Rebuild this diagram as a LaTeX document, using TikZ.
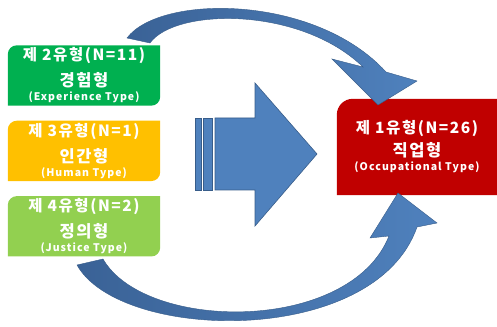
\documentclass[tikz,border=0pt]{standalone}
\usepackage{fontspec}
\newfontfamily\kr{Noto Sans CJK KR}[LetterSpace=10]
\usetikzlibrary{positioning}
\usetikzlibrary{backgrounds}
\definecolor{typered}{HTML}{C00000}
\definecolor{typegreen}{HTML}{00B050}
\definecolor{typeyellow}{HTML}{FFC000}
\definecolor{typelime}{HTML}{92D050}
\definecolor{arrowblue}{HTML}{4F81BD}
\definecolor{arrowdark}{HTML}{3A6296}
\definecolor{arrowedge}{HTML}{385D8A}
\tikzset{
  typebox/.style={
    text=white, align=center, inner sep=0pt,
    minimum width=152pt, minimum height=60pt,
    font=\kr\bfseries\fontsize{15.5}{18}\selectfont,
  },
  block arrow/.style={fill=arrowblue, draw=arrowedge, line width=0.6pt},
  curved arrow/.style={left color=arrowdark, right color=arrowblue, draw=arrowedge, line width=0.4pt},
}
\newcommand{\eng}{\fontsize{10.5}{12}\selectfont}
\newcommand{\kname}{\fontsize{16.5}{18}\selectfont}
\newcommand{\typefill}[3][9pt]{%
  \fill[#3] (#2.south west) -- ([yshift=-#1]#2.north west)
    arc[start angle=180, end angle=90, radius=#1]
    -- (#2.north east) -- ([yshift=#1]#2.south east)
    arc[start angle=0, end angle=-90, radius=#1] -- cycle;}
\begin{document}
\begin{tikzpicture}[x=1pt, y=1pt]
  \useasboundingbox (0,0) rectangle (497,326);

  % Define nodes
  \node[typebox] (type_2) at (84,250.5) {제 2유형(N=11)\\[8pt] {\kname 경험형}\\[-4pt] {\eng(Experience Type)}};
  \node[typebox, below=15pt of type_2] (type_3) {제 3유형(N=1)\\[8pt] {\kname 인간형}\\[-4pt] {\eng(Human Type)}};
  \node[typebox, below=15pt of type_3] (type_4) {제 4유형(N=2)\\[8pt] {\kname 정의형}\\[-4pt] {\eng(Justice Type)}};

  \node[typebox, minimum width=160pt, minimum height=96pt] (type_1) at (417,179) {제 1유형(N=26)\\[5pt] {\kname 직업형}\\[-4pt] {\eng(Occupational Type)}};

  \begin{pgfonlayer}{background}
    \typefill{type_2}{typegreen}
    \typefill{type_3}{typeyellow}
    \typefill{type_4}{typelime}
    % red box runs past the right edge
    \fill[typered] (type_1.south west) -- ([yshift=-16pt]type_1.north west)
      arc[start angle=180, end angle=90, radius=16pt]
      -- ([xshift=20pt]type_1.north east) -- ([xshift=20pt]type_1.south east) -- cycle;
  \end{pgfonlayer}

  % Big striped arrow
  \filldraw[block arrow] (195,136) rectangle (201,208);
  \filldraw[block arrow] (203,136) rectangle (212,208);
  \filldraw[block arrow] (215,136) -- (255,136) -- (255,100) -- (317,172)
    -- (255,243) -- (255,208) -- (215,208) -- cycle;

  % Curved arrows
  \path[curved arrow] (127,288) .. controls (160,332) and (315,332) .. (386,254)
    -- (417,245) -- (378,221) -- (332,267) -- (363,259)
    .. controls (300,320) and (175,318) .. (150,283) -- cycle;
  \path[curved arrow] (77,61) .. controls (120,-16) and (375,-22) .. (417,99)
    -- (437,103) -- (398,133) -- (370,88) -- (389,90)
    .. controls (350,-8) and (145,-6) .. (103,67) -- cycle;

\end{tikzpicture}
\end{document}
